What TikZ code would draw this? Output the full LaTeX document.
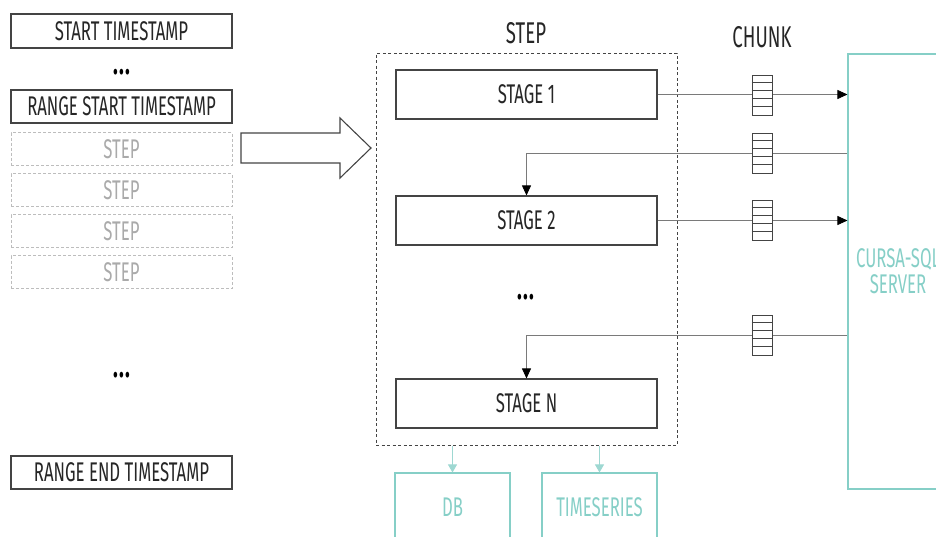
\documentclass[tikz,border=0pt]{standalone}
\usepackage{fontspec}
\setmainfont{Fira Sans}[FakeStretch=0.62]
\usetikzlibrary{arrows.meta}
\definecolor{teal2}{HTML}{86CFC7}
\definecolor{edge}{HTML}{444444}
\definecolor{ghost}{HTML}{BDBDBD}
\definecolor{wire}{HTML}{7A7A7A}
\newcommand\ellip{.\kern1.5pt.\kern1.5pt.}
\tikzset{
  lbl/.style={font=\fontsize{27}{29}\selectfont, text=black!85},
  title/.style={font=\fontsize{30}{32}\selectfont, text=black!85},
  box/.style={draw=edge, line width=1.1pt, fill=white, inner sep=0pt, lbl},
  ghostbox/.style={draw=ghost, dashed, dash pattern=on 3pt off 2pt, line width=1pt, inner sep=0pt,
    font=\fontsize{27}{29}\selectfont, text=ghost!90!black},
  tealtext/.style={font=\fontsize{27}{29}\selectfont, text=teal2, inner sep=0pt},
  tealbox/.style={draw=teal2, line width=1.1pt, inner sep=0pt, tealtext},
  chunkbox/.style={draw=edge, line width=1pt, fill=white, minimum width=20pt, minimum height=40pt, inner sep=0pt},
  wirestyle/.style={draw=wire, line width=0.8pt},
  tip/.style={-{Triangle[length=10pt,width=9pt,color=black]}},
  dots/.style={font=\fontsize{32}{32}\selectfont\bfseries, inner sep=0pt, anchor=base, text=black}
}
\begin{document}
\begin{tikzpicture}[x=1pt,y=-1pt]
\useasboundingbox (0,0) rectangle (936,536);
\clip (0,0) rectangle (936,536);

% left column: timestamps and steps
\node[box, minimum width=221pt, minimum height=34pt] (start) at (121.5,31) {START TIMESTAMP};
\node[dots] (dotsA) at (122,74) {\ellip};
\node[box, minimum width=221pt, minimum height=33pt] (rstart) at (121.5,106.5) {RANGE START TIMESTAMP};
\node[ghostbox, minimum width=221pt, minimum height=33pt] (g1) at (121.5,149) {STEP};
\node[ghostbox, minimum width=221pt, minimum height=33pt] (g2) at (121.5,190) {STEP};
\node[ghostbox, minimum width=221pt, minimum height=33pt] (g3) at (121.5,231) {STEP};
\node[ghostbox, minimum width=221pt, minimum height=33pt] (g4) at (121.5,272) {STEP};
\node[dots] (dotsB) at (122,377) {\ellip};
\node[box, minimum width=221pt, minimum height=33pt] (rend) at (121.5,472.5) {RANGE END TIMESTAMP};

% hollow arrow into the step
\draw[edge, line width=1.1pt] (241,133) -- (340,133) -- (340,118) -- (371,148) -- (340,178) -- (340,163) -- (241,163) -- cycle;

% the step with its stages
\node[title] (steplbl) at (526,33) {STEP};
\node[draw=edge, dashed, dash pattern=on 3pt off 2.5pt, line width=1pt, minimum width=301pt, minimum height=392pt, inner sep=0pt] (frame) at (526.5,249) {};
\node[box, minimum width=261pt, minimum height=49pt] (s1) at (526.5,94.5) {STAGE 1};
\node[box, minimum width=261pt, minimum height=49pt] (s2) at (526.5,220.5) {STAGE 2};
\node[dots] (dotsC) at (526,299) {\ellip};
\node[box, minimum width=261pt, minimum height=49pt] (sn) at (526.5,403.5) {STAGE N};

% server and stores
\node[title] (chunklbl) at (762,37) {CHUNK};
\node[tealbox, minimum width=100pt, minimum height=435pt, align=center] (srv) at (898,271.5) {CURSA-SQL\\[-3pt]SERVER};
\node[tealbox, minimum width=115pt, minimum height=74pt] (db) at (452.5,510) {};
\node[tealtext] (dbtext) at (452.5,507) {DB};
\node[tealbox, minimum width=115pt, minimum height=74pt] (ts) at (599.5,510) {};
\node[tealtext] (tstext) at (599.5,507) {TIMESERIES};

% chunk queue positions
\coordinate (q2) at (762,153);
\coordinate (q4) at (762,335);

% connectors
\draw[wirestyle, tip] (s1.east) -- (s1.east -| srv.west);
\draw[wirestyle, tip] (s2.east) -- (s2.east -| srv.west);
\draw[wirestyle, tip] (srv.west |- q2) -- (q2 -| s2.north) -- (s2.north);
\draw[wirestyle, tip] (srv.west |- q4) -- (q4 -| sn.north) -- (sn.north);
\draw[teal2!80, line width=1pt, -{Triangle[length=8pt,width=9pt]}] (frame.south -| db.north) -- (db.north);
\draw[teal2!80, line width=1pt, -{Triangle[length=8pt,width=9pt]}] (frame.south -| ts.north) -- (ts.north);

% chunk cells
\foreach \q/\yy in {c1/95, c2/153, c3/220, c4/335} {
  \node[chunkbox] (\q) at (762,\yy) {};
  \foreach \k in {1,...,4}
    \draw[edge, line width=1pt] ([yshift=-8*\k pt]\q.north west) -- ([yshift=-8*\k pt]\q.north east);
}
\end{tikzpicture}
\end{document}
